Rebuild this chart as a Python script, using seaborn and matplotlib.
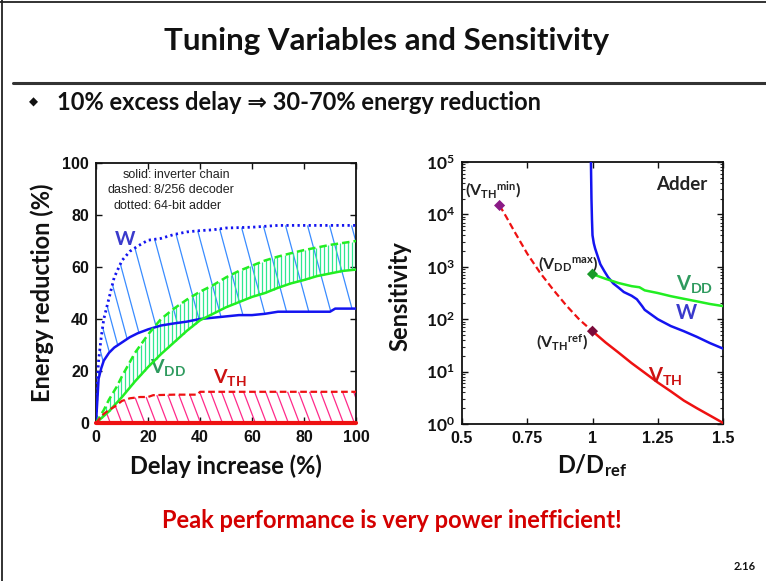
import numpy as np
import matplotlib
matplotlib.use('Agg')
import matplotlib.pyplot as plt
import seaborn as sns
from matplotlib.lines import Line2D
from matplotlib.collections import LineCollection
from matplotlib.ticker import FixedLocator, FuncFormatter, LogLocator, NullFormatter

# ---------------- data: left panel (energy reduction % vs delay increase %) ----------------
w_inv_x = [0, 1, 2, 3, 5, 7, 10, 13, 16, 20, 25, 30, 35, 40, 45, 50, 55, 60, 65, 70, 80, 90, 92, 100]
w_inv_y = [0, 17, 21, 24, 27, 29, 31, 33, 34.5, 36, 37.5, 38.3, 39, 40, 40.5, 41, 41.5, 41.5, 42, 42.8, 42.8, 42.8, 44, 44]
w_add_x = [0, 0.5, 1, 2, 3, 5, 7, 10, 13, 16, 20, 25, 30, 35, 40, 45, 50, 60, 70, 80, 90, 100]
w_add_y = [0, 16, 24, 33, 40, 48, 56, 62.5, 66, 68, 70.3, 71, 72.5, 73.5, 74, 74.3, 75, 75.3, 76, 76, 76, 76]
vdd_inv_x = [0, 5, 10, 15, 20, 25, 30, 35, 40, 45, 50, 55, 60, 65, 70, 75, 80, 85, 90, 95, 100]
vdd_inv_y = [0, 4.5, 10, 16, 21.5, 26.5, 31, 35.5, 39.5, 42, 44.5, 46.5, 48.5, 50, 52, 53.7, 55, 56.5, 57.5, 58.5, 59]
vdd_dec_x = [0, 3, 5, 8, 10, 15, 20, 25, 30, 35, 40, 45, 50, 55, 60, 65, 70, 75, 80, 90, 100]
vdd_dec_y = [0, 5, 9, 14, 18, 27, 34, 40, 44, 47.5, 50.5, 53, 56, 58.5, 60.5, 62.5, 64, 65.3, 66.5, 68.5, 70]
vth_dec_x = [0, 3, 5, 7, 10, 13, 17, 20, 22, 30, 39, 40, 100]
vth_dec_y = [0, 3.5, 5, 6.2, 8.5, 9.5, 10, 10, 10.7, 10.9, 10.9, 12, 12]
vth_inv_x = [0, 100]
vth_inv_y = [0, 0]
left_ticks = [0, 20, 40, 60, 80, 100]

# ---------------- data: right panel (sensitivity vs D/Dref, adder) ----------------
vth_dash_d = [0.644, 0.67, 0.70, 0.75, 0.80, 0.85, 0.90, 0.95, 1.0]
vth_dash_s = [14800, 8900, 4800, 1780, 760, 363, 182, 98, 59]
vth_sol_d = [1.0, 1.05, 1.1, 1.15, 1.2, 1.25, 1.3, 1.35, 1.4, 1.45, 1.5]
vth_sol_s = [59, 36, 23, 14.5, 9.5, 6.2, 4.2, 2.8, 2.0, 1.45, 1.05]
w_d = [0.994, 0.996, 0.998, 1.0, 1.005, 1.01, 1.02, 1.03, 1.045, 1.06, 1.08, 1.1, 1.12,
       1.15, 1.17, 1.19, 1.2, 1.25, 1.3, 1.35, 1.4, 1.45, 1.5]
w_s = [100000, 20000, 7900, 4000, 2800, 2240, 1580, 1120, 830, 630, 480, 400, 330,
       280, 240, 178, 151, 100, 74, 59, 46, 35, 27.5]
vdd_d = [1.0, 1.05, 1.1, 1.15, 1.18, 1.2, 1.25, 1.3, 1.35, 1.4, 1.45, 1.5]
vdd_s = [725, 590, 490, 427, 407, 355, 316, 275, 245, 219, 195, 178]
pt_vthmin = (0.644, 14800)
pt_vthref = (1.0, 59)
pt_vddmax = (1.0, 725)
right_xticks = [0.5, 0.75, 1, 1.25, 1.5]
right_xlabels = ['0.5', '0.75', '1', '1.25', '1.5']

# ---------------- style ----------------
sns.set_theme(style='ticks')
plt.rcParams['font.family'] = ['Liberation Sans', 'DejaVu Sans']
plt.rcParams['mathtext.fontset'] = 'custom'
plt.rcParams['mathtext.rm'] = 'Lato:bold'
plt.rcParams['mathtext.bf'] = 'Lato:bold'
plt.rcParams['mathtext.it'] = 'Lato:bold'
plt.rcParams['axes.linewidth'] = 1.3

BLUE = '#1414f0'
BLUE_H = '#3a8cff'
GREEN = '#22ee22'
GREEN_H = '#30e890'
RED = '#ee1111'
PINK = '#ff2a8a'
SLIDE = ['Lato', 'DejaVu Sans']

W, H = 766, 581
fig = plt.figure(figsize=(W / 100, H / 100), dpi=100)
fig.patch.set_facecolor('white')


def px_axes(x0, y0, x1, y1):
    return fig.add_axes([x0 / W, 1 - y1 / H, (x1 - x0) / W, (y1 - y0) / H])


def fx(px):
    return px / W


def fy(py):
    return 1 - py / H


# slide frame, title and rule
fig.add_artist(Line2D([fx(2), fx(2)], [0, 1], color='#222222', lw=1.3))
fig.add_artist(Line2D([0, 1], [fy(2), fy(2)], color='#222222', lw=1.3))
fig.add_artist(Line2D([fx(13), 1], [fy(83), fy(83)], color='#333333', lw=2.2))
fig.text(fx(387), fy(41), 'Tuning Variables and Sensitivity', family=SLIDE, fontweight='bold',
         fontsize=22.5, ha='center', va='center', color='#111111')
fig.text(fx(33), fy(102), '\u25c6', family='DejaVu Sans', fontsize=8.5, ha='center', va='center', color='#111111')
fig.text(fx(57), fy(103), '10% excess delay \u21d2 30-70% energy reduction', family=SLIDE,
         fontweight='bold', fontsize=17, ha='left', va='center', color='#111111')
fig.text(fx(392), fy(521), 'Peak performance is very power inefficient!', family=SLIDE,
         fontweight='bold', fontsize=17, ha='center', va='center', color='#d40000')
fig.text(fx(745), fy(567), '2.16', family=SLIDE, fontweight='bold', fontsize=8,
         ha='center', va='center', color='#111111')

axL = px_axes(96, 163, 356, 423)
axR = px_axes(462, 162, 723, 424)


def hatch(ax, xu, yu, xl, yl, step, slope, color, lw, vertical=False, offset=0.0):
    T = ax.transData
    xs = np.linspace(min(xu), max(xu), 3000)
    up = T.transform(np.column_stack([xs, np.interp(xs, xu, yu)]))
    xs2 = np.linspace(min(xl), max(xl), 3000)
    lo = T.transform(np.column_stack([xs2, np.interp(xs2, xl, yl)]))
    if vertical:
        sx = np.arange(up[0, 0] + offset, up[-1, 0], step)
        starts = np.column_stack([sx, np.interp(sx, up[:, 0], up[:, 1])])
    else:
        seg = np.hypot(np.diff(up[:, 0]), np.diff(up[:, 1]))
        s = np.concatenate([[0], np.cumsum(seg)])
        tg = np.arange(offset, s[-1], step)
        starts = np.column_stack([np.interp(tg, s, up[:, 0]), np.interp(tg, s, up[:, 1])])
    t = np.linspace(0, 400, 8001)
    inv = T.inverted()
    segs = []
    for X0, Y0 in starts:
        X = X0 + slope * t
        Y = Y0 - t
        ylow = np.interp(X, lo[:, 0], lo[:, 1])
        hit = Y <= ylow
        idx = np.argmax(hit)
        if idx == 0:
            continue
        segs.append(inv.transform([[X0, Y0], [X[idx], Y[idx]]]))
    ax.add_collection(LineCollection(segs, colors=color, linewidths=lw, zorder=2))


# ---------------- left panel ----------------
axL.set_xlim(0, 100)
axL.set_ylim(0, 100)
hatch(axL, w_add_x, w_add_y, w_inv_x, w_inv_y, 22, 0.27, BLUE_H, 0.9, offset=8)
hatch(axL, vdd_dec_x, vdd_dec_y, vdd_inv_x, vdd_inv_y, 3.9, 0.0, GREEN_H, 0.9, vertical=True, offset=2)
hatch(axL, vth_dec_x, vth_dec_y, vth_inv_x, vth_inv_y, 11, 0.38, PINK, 0.9, offset=4)

sns.lineplot(x=w_inv_x, y=w_inv_y, ax=axL, color=BLUE, lw=1.8, zorder=4)
sns.lineplot(x=w_add_x, y=w_add_y, ax=axL, color=BLUE, lw=2.0, linestyle=(0, (0.8, 1.2)), zorder=4)
sns.lineplot(x=vdd_inv_x, y=vdd_inv_y, ax=axL, color=GREEN, lw=1.8, zorder=4)
sns.lineplot(x=vdd_dec_x, y=vdd_dec_y, ax=axL, color=GREEN, lw=1.8, linestyle=(0, (3, 1.6)), zorder=4)
sns.lineplot(x=vth_dec_x, y=vth_dec_y, ax=axL, color=RED, lw=1.6, linestyle=(0, (3, 1.6)), zorder=4)
sns.lineplot(x=vth_inv_x, y=vth_inv_y, ax=axL, color=RED, lw=3.0, zorder=4, clip_on=False)

axL.xaxis.set_major_locator(FixedLocator(left_ticks))
axL.yaxis.set_major_locator(FixedLocator(left_ticks))
axL.tick_params(direction='in', length=4, width=1, top=True, right=True, pad=5,
                labelsize=11.5, colors='#111111')
for lab in axL.get_xticklabels() + axL.get_yticklabels():
    lab.set_fontweight('bold')
axL.set_xlabel('Delay increase (%)', family=SLIDE, fontweight='bold', fontsize=17, color='#111111')
axL.set_ylabel('Energy reduction (%)', family=SLIDE, fontweight='bold', fontsize=17, color='#111111')
axL.xaxis.label.set_va('center')
axL.yaxis.label.set_va('center')
axL.xaxis.set_label_coords((226 - 96) / 260, -(466 - 423) / 260)
axL.yaxis.set_label_coords(-(96 - 42) / 260, 0.5)

axL.text(21.5, 95.5, 'solid:', ha='right', va='center', fontsize=9, color='#222222')
axL.text(21.5, 89.5, 'dashed:', ha='right', va='center', fontsize=9, color='#222222')
axL.text(21.5, 83.5, 'dotted:', ha='right', va='center', fontsize=9, color='#222222')
axL.text(22.5, 95.5, 'inverter chain', ha='left', va='center', fontsize=9, color='#222222')
axL.text(22.5, 89.5, '8/256 decoder', ha='left', va='center', fontsize=9, color='#222222')
axL.text(22.5, 83.5, '64-bit adder', ha='left', va='center', fontsize=9, color='#222222')
axL.text(11.2, 70.4, 'W', family=SLIDE, fontweight='bold', fontsize=14, color='#3a3acc', ha='center', va='center')
axL.text(27.8, 21.4, r'$\mathbf{V_{DD}}$', fontsize=14, color='#2e9a5e', ha='center', va='center')
axL.text(51.5, 17.6, r'$\mathbf{V_{TH}}$', fontsize=14, color='#cc1111', ha='center', va='center')

# ---------------- right panel ----------------
axR.set_yscale('log')
axR.set_xlim(0.5, 1.5)
axR.set_ylim(1, 1e5)
sns.lineplot(x=vth_dash_d, y=vth_dash_s, ax=axR, color=RED, lw=1.6, linestyle=(0, (3, 1.6)), zorder=3)
sns.lineplot(x=vth_sol_d, y=vth_sol_s, ax=axR, color=RED, lw=1.8, zorder=3)
sns.lineplot(x=w_d, y=w_s, ax=axR, color=BLUE, lw=1.8, zorder=3)
sns.lineplot(x=vdd_d, y=vdd_s, ax=axR, color=GREEN, lw=1.8, zorder=3)
sns.scatterplot(x=[pt_vthmin[0]], y=[pt_vthmin[1]], ax=axR, marker='D', s=32, color='#8a1a86', edgecolor='none', zorder=5)
sns.scatterplot(x=[pt_vthref[0]], y=[pt_vthref[1]], ax=axR, marker='D', s=32, color='#7a0a3a', edgecolor='none', zorder=5)
sns.scatterplot(x=[pt_vddmax[0]], y=[pt_vddmax[1]], ax=axR, marker='D', s=32, color='#1a9a2a', edgecolor='none', zorder=5)

axR.xaxis.set_major_locator(FixedLocator(right_xticks))
axR.set_xticklabels(right_xlabels)
axR.yaxis.set_major_locator(LogLocator(base=10, numticks=10))
axR.yaxis.set_minor_locator(LogLocator(base=10, subs=np.arange(2, 10), numticks=20))
axR.yaxis.set_minor_formatter(NullFormatter())
axR.yaxis.set_major_formatter(FuncFormatter(lambda v, p: r'$\mathbf{10^{%d}}$' % round(np.log10(v))))
axR.tick_params(which='major', direction='in', length=4, width=1, top=True, right=True, pad=5,
                labelsize=12.5, colors='#111111')
axR.tick_params(which='minor', direction='in', length=2.5, width=0.8, left=True, right=True)
for lab in axR.get_xticklabels():
    lab.set_fontweight('bold')
    lab.set_fontsize(11.5)
axR.set_xlabel(r'D/D$_{\mathbf{ref}}$', family=SLIDE, fontweight='bold', fontsize=17, color='#111111')
axR.set_ylabel('Sensitivity', family=SLIDE, fontweight='bold', fontsize=17, color='#111111')
axR.xaxis.label.set_va('center')
axR.yaxis.label.set_va('center')
axR.xaxis.set_label_coords((592 - 462) / 261, -(466 - 424) / 262)
axR.yaxis.set_label_coords(-(462 - 400) / 261, 0.49)

axR.text(1.34, 10 ** 4.57, 'Adder', family=SLIDE, fontweight='bold', fontsize=13.5, color='#222222', ha='center', va='center')
axR.text(0.62, 10 ** 4.47, r'(V$_{\mathbf{TH}}$$^{\mathbf{min}}$)', family=SLIDE, fontweight='bold', fontsize=11.5,
         color='#222222', ha='center', va='center')
axR.text(0.905, 10 ** 3.07, r'(V$_{\mathbf{DD}}$$^{\mathbf{max}}$)', family=SLIDE, fontweight='bold', fontsize=11.5,
         color='#222222', ha='center', va='center')
axR.text(0.885, 10 ** 1.57, r'(V$_{\mathbf{TH}}$$^{\mathbf{ref}}$)', family=SLIDE, fontweight='bold', fontsize=11.5,
         color='#222222', ha='center', va='center')
axR.text(1.39, 10 ** 2.65, r'$\mathbf{V_{DD}}$', fontsize=14.5, color='#2e9a5e', ha='center', va='center')
axR.text(1.36, 10 ** 2.11, 'W', family=SLIDE, fontweight='bold', fontsize=14.5, color='#3a3acc', ha='center', va='center')
axR.text(1.28, 10 ** 0.90, r'$\mathbf{V_{TH}}$', fontsize=14.5, color='#cc1111', ha='center', va='center')

for ax in (axL, axR):
    for sp in ax.spines.values():
        sp.set_color('#111111')
        sp.set_visible(True)

fig.savefig('out.png', dpi=100, facecolor='white')
